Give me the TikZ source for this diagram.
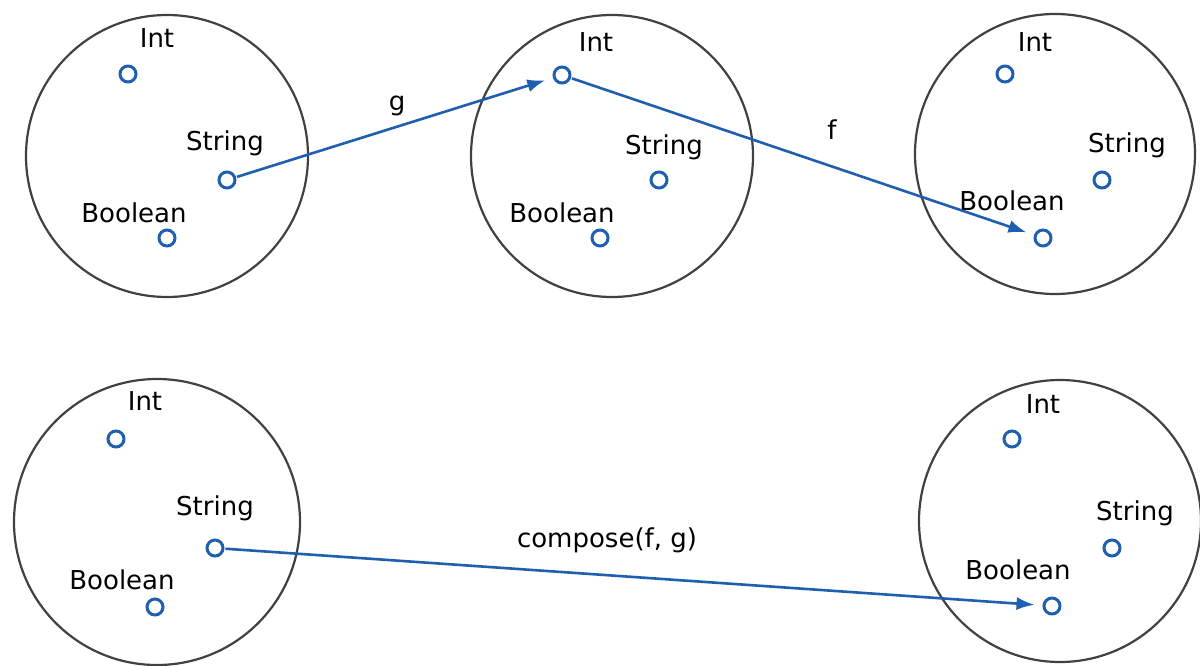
\documentclass[tikz,border=0pt]{standalone}
\usepackage{fontspec}
\setmainfont{DejaVu Sans}
\usetikzlibrary{arrows.meta}
\definecolor{dotblue}{RGB}{30,95,175}
\definecolor{ringgray}{RGB}{65,65,65}
\tikzset{
  ring/.style={draw=ringgray, line width=2.2pt},
  dot/.style={circle, draw=dotblue, line width=3pt, fill=white, minimum size=16pt, inner sep=0pt},
  lbl/.style={inner sep=0pt, font=\fontsize{26}{30}\selectfont},
  maparrow/.style={draw=dotblue, line width=2.6pt, -{Latex[length=18pt,width=13pt]}, shorten >=8pt, shorten <=1pt}
}
\begin{document}
\begin{tikzpicture}[x=1pt,y=-1pt]
\useasboundingbox (0,0) rectangle (1200,666);
\fill[white] (0,0) rectangle (1200,666);
% rings
\draw[ring] (167,156) circle (141);
\draw[ring] (612,156) circle (141);
\draw[ring] (1055,154) circle (140);
\draw[ring] (157,522) circle (143);
\draw[ring] (1060,521) circle (141);
% set 1
\node[lbl] (l1i) at (157,38) {Int};
\node[lbl] (l1s) at (225,143) {String};
\node[lbl] (l1b) at (134,213) {Boolean};
\node[dot] (d1i) at (128,74) {};
\node[dot] (d1s) at (227,180) {};
\node[dot] (d1b) at (167,238) {};
% set 2
\node[lbl] (l2i) at (596,42) {Int};
\node[lbl] (l2s) at (664,147) {String};
\node[lbl] (l2b) at (562,213) {Boolean};
\node[dot] (d2i) at (562,75) {};
\node[dot] (d2s) at (659,180) {};
\node[dot] (d2b) at (600,238) {};
% set 3
\node[lbl] (l3i) at (1035,42) {Int};
\node[lbl] (l3s) at (1127,145) {String};
\node[lbl] (l3b) at (1012,201) {Boolean};
\node[dot] (d3i) at (1005,74) {};
\node[dot] (d3s) at (1102,180) {};
\node[dot] (d3b) at (1043,238) {};
% set 4
\node[lbl] (l4i) at (145,401) {Int};
\node[lbl] (l4s) at (215,508) {String};
\node[lbl] (l4b) at (122,580) {Boolean};
\node[dot] (d4i) at (116,439) {};
\node[dot] (d4s) at (215,548) {};
\node[dot] (d4b) at (155,607) {};
% set 5
\node[lbl] (l5i) at (1043,404) {Int};
\node[lbl] (l5s) at (1135,513) {String};
\node[lbl] (l5b) at (1018,570) {Boolean};
\node[dot] (d5i) at (1012,439) {};
\node[dot] (d5s) at (1112,548) {};
\node[dot] (d5b) at (1052,606) {};
% arrows
\draw[maparrow] (d1s) -- (d2i);
\draw[maparrow] (d2i) -- (d3b);
\draw[maparrow] (d4s) -- (d5b);
% arrow labels
\node[lbl] (lg) at (397,106) {g};
\node[lbl] (lf) at (832,130) {f};
\node[lbl] (lc) at (607,540) {compose(f, g)};
\end{tikzpicture}
\end{document}
